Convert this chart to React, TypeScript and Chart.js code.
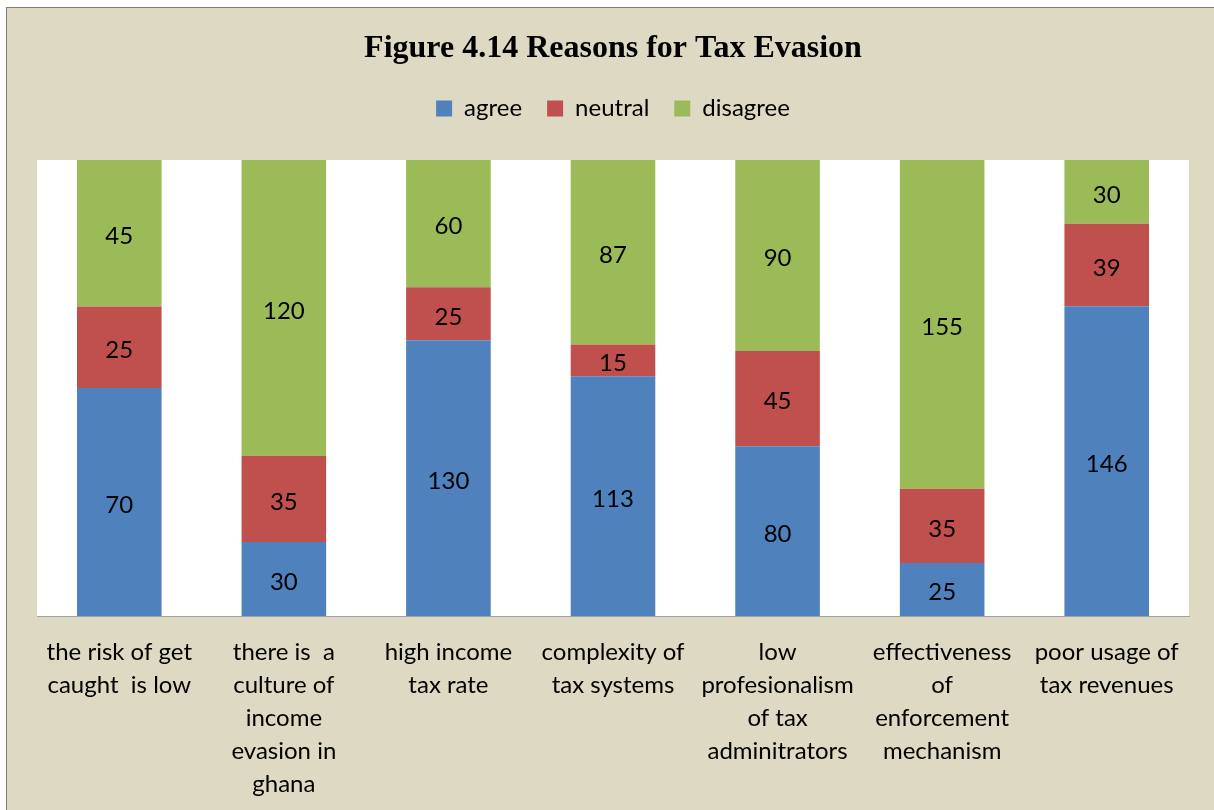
import React, { useEffect, useRef } from "react";
import { Chart, registerables } from "chart.js";

Chart.register(...registerables);

const titleText = "Figure 4.14 Reasons for Tax Evasion";
const categories: string[][] = [
  ["the risk of get", "caught  is low"],
  ["there is  a", "culture of", "income", "evasion in", "ghana"],
  ["high income", "tax rate"],
  ["complexity of", "tax systems"],
  ["low", "profesionalism", "of tax", "adminitrators"],
  ["effectiveness", "of", "enforcement", "mechanism"],
  ["poor usage of", "tax revenues"],
];
const agree = [70, 30, 130, 113, 80, 25, 146];
const neutral = [25, 35, 25, 15, 45, 35, 39];
const disagree = [45, 120, 60, 87, 90, 155, 30];

const seriesNames = ["agree", "neutral", "disagree"];
const seriesColors = ["#4f81bd", "#c0504d", "#9bbb59"];

const FONT = "Lato, 'Open Sans', sans-serif";

export default function App() {
  const ref = useRef<HTMLCanvasElement | null>(null);

  useEffect(() => {
    if (!ref.current) return;
    const raw = [agree, neutral, disagree];
    const totals = agree.map((_, i) => agree[i] + neutral[i] + disagree[i]);
    const pct = raw.map((arr) => arr.map((v, i) => (v / totals[i]) * 100));

    const labelPlugin = {
      id: "valueLabels",
      afterDatasetsDraw(chart: any) {
        const ctx = chart.ctx;
        ctx.save();
        ctx.font = `24px ${FONT}`;
        ctx.fillStyle = "#000";
        ctx.textAlign = "center";
        ctx.textBaseline = "middle";
        chart.data.datasets.forEach((ds: any, di: number) => {
          const meta = chart.getDatasetMeta(di);
          meta.data.forEach((el: any, i: number) => {
            const y = (el.y + el.base) / 2 + 3;
            ctx.fillText(String(ds.rawValues[i]), el.x, y);
          });
        });
        ctx.restore();
      },
    };

    const areaFill = {
      id: "areaFill",
      beforeDraw(chart: any) {
        const { ctx, chartArea } = chart;
        ctx.save();
        ctx.fillStyle = "#ffffff";
        ctx.fillRect(chartArea.left, chartArea.top, chartArea.right - chartArea.left, chartArea.bottom - chartArea.top);
        ctx.restore();
      },
    };

    const chart = new Chart(ref.current, {
      type: "bar",
      data: {
        labels: categories,
        datasets: seriesNames.map((name, k) => ({
          label: name,
          data: pct[k],
          rawValues: raw[k],
          backgroundColor: seriesColors[k],
          borderWidth: 0,
          barPercentage: 0.514,
          categoryPercentage: 1,
        })) as any,
      },
      options: {
        animation: false,
        responsive: false,
        maintainAspectRatio: false,
        layout: { padding: { left: 30, right: 25, top: 0, bottom: 0 } },
        plugins: {
          title: {
            display: true,
            text: titleText,
            color: "#000",
            font: { family: "'Liberation Serif', 'Times New Roman', serif", size: 32, weight: "bold" },
            padding: { top: 22, bottom: 3 },
          },
          legend: {
            display: true,
            labels: {
              boxWidth: 16,
              boxHeight: 16,
              padding: 25,
              color: "#000",
              font: { family: FONT, size: 24 },
            },
          },
          tooltip: { enabled: false },
        },
        scales: {
          x: {
            stacked: true,
            grid: { display: false },
            border: { display: true, color: "#a0a0a0", width: 1 },
            ticks: {
              color: "#000",
              font: { family: FONT, size: 24, lineHeight: 1.375 },
              padding: 12,
              maxRotation: 0,
              minRotation: 0,
              autoSkip: false,
            },
            afterFit(scale: any) {
              scale.height = 194;
            },
          },
          xTopGap: {
            type: "category",
            position: "top",
            display: true,
            grid: { display: false },
            border: { display: false },
            ticks: { display: false },
            afterFit(scale: any) {
              scale.height = 29.6;
            },
          },
          y: {
            stacked: true,
            display: false,
            min: 0,
            max: 100,
          },
        },
      },
      plugins: [areaFill, labelPlugin],
    } as any);
    return () => chart.destroy();
  }, []);

  return (
    <div
      style={{
        position: "absolute",
        left: 6,
        top: 7,
        width: 1210,
        height: 805,
        background: "#ddd9c3",
        borderLeft: "1px solid #808080",
        borderTop: "1px solid #808080",
        overflow: "hidden",
      }}
    >
      <canvas
        ref={ref}
        width={1207}
        height={802}
        style={{ display: "block", position: "absolute", left: 0, top: 0, width: 1207, height: 802 }}
      />
    </div>
  );
}
